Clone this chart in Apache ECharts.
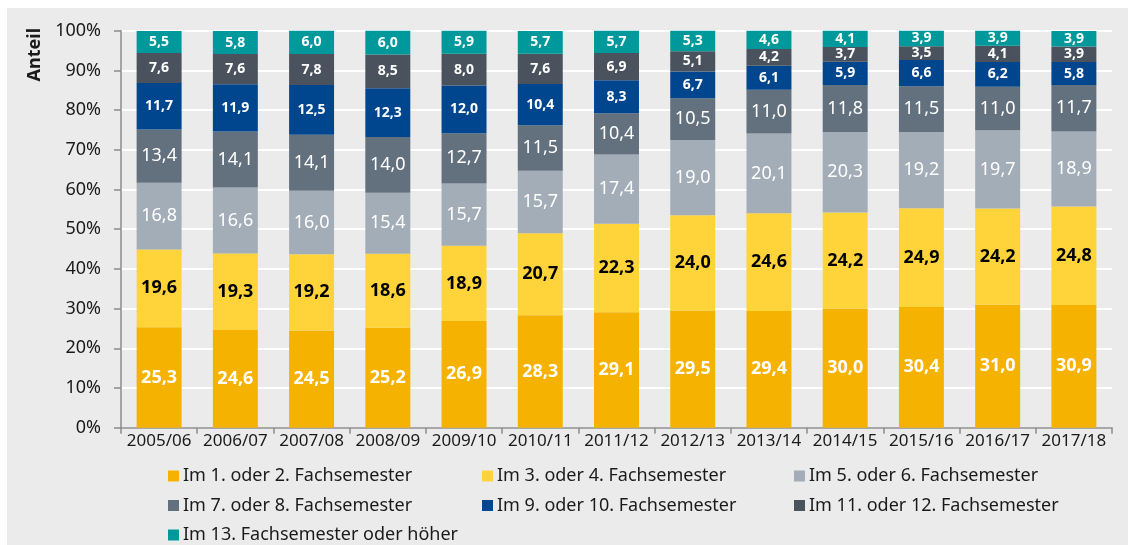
<!DOCTYPE html>
<html>
<head>
<meta charset="utf-8">
<script src="https://cdn.jsdelivr.net/npm/echarts@6/dist/echarts.min.js"></script>
<style>
html,body{margin:0;padding:0;background:#fff;}
#wrap{position:relative;width:1128px;height:545px;background:#fff;overflow:hidden;}
#chart{position:absolute;left:7px;top:8px;width:1121px;height:537px;background:#ebebeb;}
</style>
</head>
<body>
<div id="wrap"><div id="chart"></div></div>
<script>
const categories = ['2005/06','2006/07','2007/08','2008/09','2009/10','2010/11','2011/12','2012/13','2013/14','2014/15','2015/16','2016/17','2017/18'];
const seriesNames = [
  'Im 1. oder 2. Fachsemester',
  'Im 3. oder 4. Fachsemester',
  'Im 5. oder 6. Fachsemester',
  'Im 7. oder 8. Fachsemester',
  'Im 9. oder 10. Fachsemester',
  'Im 11. oder 12. Fachsemester',
  'Im 13. Fachsemester oder höher'
];
const sem1_2   = [25.3, 24.6, 24.5, 25.2, 26.9, 28.3, 29.1, 29.5, 29.4, 30.0, 30.4, 31.0, 30.9];
const sem3_4   = [19.6, 19.3, 19.2, 18.6, 18.9, 20.7, 22.3, 24.0, 24.6, 24.2, 24.9, 24.2, 24.8];
const sem5_6   = [16.8, 16.6, 16.0, 15.4, 15.7, 15.7, 17.4, 19.0, 20.1, 20.3, 19.2, 19.7, 18.9];
const sem7_8   = [13.4, 14.1, 14.1, 14.0, 12.7, 11.5, 10.4, 10.5, 11.0, 11.8, 11.5, 11.0, 11.7];
const sem9_10  = [11.7, 11.9, 12.5, 12.3, 12.0, 10.4, 8.3, 6.7, 6.1, 5.9, 6.6, 6.2, 5.8];
const sem11_12 = [7.6, 7.6, 7.8, 8.5, 8.0, 7.6, 6.9, 5.1, 4.2, 3.7, 3.5, 4.1, 3.9];
const sem13plus= [5.5, 5.8, 6.0, 6.0, 5.9, 5.7, 5.7, 5.3, 4.6, 4.1, 3.9, 3.9, 3.9];
const yTicks = ['0%','10%','20%','30%','40%','50%','60%','70%','80%','90%','100%'];

const allData = [sem1_2, sem3_4, sem5_6, sem7_8, sem9_10, sem11_12, sem13plus];
const colors = ['#F6B200','#FFD43A','#A3ADB8','#63707E','#00468F','#4A535D','#00999B'];
const labelColors = ['#fff','#000','#fff','#fff','#fff','#fff','#fff'];
const labelSizes = [18,18,18,18,14,14,14];
const labelWeights = ['bold','bold','normal','normal','bold','bold','bold'];
const FONT = 'Noto Sans';

const chart = echarts.init(document.getElementById('chart'), null, {renderer:'canvas'});
const series = allData.map((d,i)=>({
  name: seriesNames[i],
  type: 'bar',
  stack: 'total',
  barWidth: '59%',
  data: d,
  itemStyle: {color: colors[i]},
  label: {
    show: true,
    position: 'inside',
    color: labelColors[i],
    fontSize: labelSizes[i],
    fontWeight: labelWeights[i],
    fontFamily: FONT,
    formatter: p => p.value.toFixed(1).replace('.', ',')
  },
  emphasis: {disabled: true}
}));

function legendCol(names, left){
  return {
    orient: 'vertical',
    left: left,
    top: 459,
    padding: 0,
    itemWidth: 11,
    itemHeight: 11,
    itemGap: 11.5,
    icon: 'rect',
    data: names,
    textStyle: {fontFamily: FONT, fontSize: 18, color: '#1a1a1a', padding: [0,0,0,-1]},
    selectedMode: false
  };
}

chart.setOption({
  backgroundColor: 'transparent',
  animation: false,
  color: colors,
  grid: {left: 114, right: 16, top: 22.7, bottom: 117.3, containLabel: false},
  xAxis: {
    type: 'category',
    data: categories,
    axisLine: {show: true, lineStyle: {color: '#8c8c8c', width: 1.5}},
    axisTick: {show: true, length: 6, lineStyle: {color: '#8c8c8c', width: 1.5}},
    axisLabel: {color: '#1a1a1a', fontFamily: FONT, fontSize: 17, margin: 5, interval: 0},
    splitLine: {show: false}
  },
  yAxis: {
    type: 'value',
    min: 0, max: 100, interval: 10,
    axisLine: {show: true, lineStyle: {color: '#8c8c8c', width: 1.5}},
    axisTick: {show: true, length: 7, lineStyle: {color: '#8c8c8c', width: 1.5}},
    axisLabel: {color: '#1a1a1a', fontFamily: FONT, fontSize: 18, margin: 20,
      formatter: v => yTicks[Math.round(v/10)]},
    splitLine: {show: true, lineStyle: {color: '#ffffff', width: 2}}
  },
  legend: [
    legendCol([seriesNames[0], seriesNames[3], seriesNames[6]], 161),
    legendCol([seriesNames[1], seriesNames[4]], 475),
    legendCol([seriesNames[2], seriesNames[5]], 787)
  ],
  graphic: [{
    type: 'text',
    left: 19, top: 20,
    rotation: Math.PI/2,
    style: {text: 'Anteil', font: 'bold 18px "Noto Sans"', fill: '#1a1a1a'}
  }],
  series: series
});
</script>
</body>
</html>
